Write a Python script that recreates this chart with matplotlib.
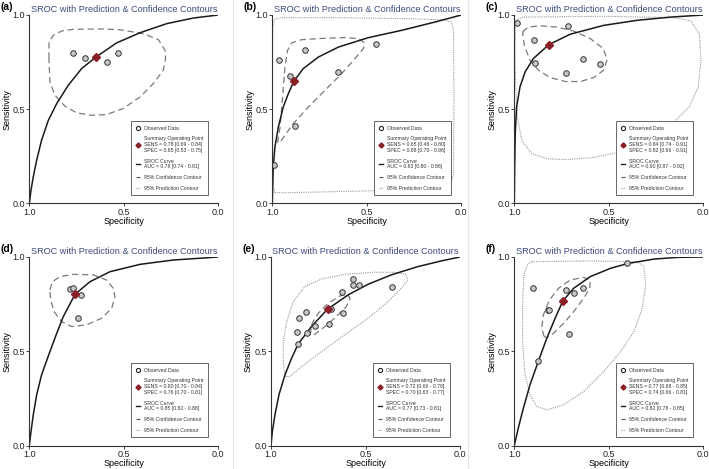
import matplotlib.pyplot as plt
from matplotlib.lines import Line2D

plt.rcParams['font.family'] = ['Liberation Sans', 'DejaVu Sans']

# ---- panel (a) ----
obs_a = [(0.767, 0.799), (0.707, 0.772), (0.591, 0.751), (0.531, 0.800)]
summ_a = (0.647, 0.777)
sroc_a = [(1.0, 0.0), (0.991, 0.071), (0.979, 0.141), (0.961, 0.230), (0.935, 0.336),
          (0.899, 0.442), (0.855, 0.530), (0.794, 0.627), (0.723, 0.716), (0.647, 0.777),
          (0.538, 0.852), (0.414, 0.906), (0.273, 0.954), (0.132, 0.984), (0.0, 1.0)]
conf_a = [(0.896, 0.769), (0.896, 0.857), (0.873, 0.892), (0.829, 0.915), (0.767, 0.924),
          (0.626, 0.926), (0.520, 0.922), (0.397, 0.901), (0.317, 0.869), (0.282, 0.813),
          (0.279, 0.769), (0.291, 0.707), (0.344, 0.636), (0.414, 0.565), (0.503, 0.504),
          (0.591, 0.472), (0.670, 0.468), (0.750, 0.481), (0.811, 0.516), (0.864, 0.574),
          (0.891, 0.645)]
pred_a = []
stats_a = ['0.78 [0.69 - 0.84]', '0.65 [0.53 - 0.75]', '0.78 [0.74 - 0.81]']

# ---- panel (b) ----
obs_b = [(0.965, 0.760), (0.905, 0.675), (0.827, 0.813), (0.654, 0.700),
         (0.452, 0.848), (0.880, 0.412), (0.993, 0.205)]
summ_b = (0.885, 0.650)
sroc_b = [(1.0, 0.0), (0.998, 0.088), (0.995, 0.194), (0.986, 0.300), (0.968, 0.406),
          (0.942, 0.512), (0.915, 0.583), (0.885, 0.650), (0.836, 0.716), (0.756, 0.777),
          (0.650, 0.830), (0.491, 0.880), (0.314, 0.919), (0.138, 0.963), (0.0, 1.0)]
conf_b = [(0.972, 0.322), (0.959, 0.406), (0.947, 0.548), (0.933, 0.724), (0.919, 0.813),
          (0.898, 0.852), (0.845, 0.869), (0.739, 0.876), (0.615, 0.880), (0.544, 0.875),
          (0.512, 0.852), (0.518, 0.822), (0.562, 0.769), (0.633, 0.689), (0.721, 0.601),
          (0.809, 0.512), (0.889, 0.424), (0.951, 0.336)]
pred_b = [(0.998, 0.936), (0.989, 0.977), (0.951, 0.986), (0.668, 0.986), (0.314, 0.981),
          (0.102, 0.975), (0.053, 0.963), (0.041, 0.919), (0.039, 0.548), (0.041, 0.159),
          (0.058, 0.097), (0.138, 0.078), (0.491, 0.067), (0.933, 0.057), (0.986, 0.058),
          (0.996, 0.088), (1.0, 0.548)]
stats_b = ['0.65 [0.46 - 0.80]', '0.88 [0.70 - 0.96]', '0.83 [0.80 - 0.86]']

# ---- panel (c) ----
obs_c = [(0.986, 0.959), (0.716, 0.942), (0.894, 0.866), (0.890, 0.747),
         (0.729, 0.693), (0.637, 0.769), (0.544, 0.740)]
summ_c = (0.817, 0.843)
sroc_c = [(1.0, 0.0), (0.998, 0.194), (0.995, 0.371), (0.988, 0.512), (0.970, 0.618),
          (0.943, 0.698), (0.899, 0.769), (0.817, 0.843), (0.704, 0.898), (0.527, 0.945),
          (0.349, 0.972), (0.172, 0.989), (0.0, 1.0)]
conf_c = [(0.956, 0.910), (0.926, 0.936), (0.863, 0.943), (0.775, 0.936), (0.686, 0.915),
          (0.598, 0.875), (0.530, 0.822), (0.509, 0.763), (0.527, 0.707), (0.580, 0.668),
          (0.651, 0.647), (0.730, 0.647), (0.810, 0.668), (0.872, 0.707), (0.917, 0.760),
          (0.947, 0.839)]
pred_c = [(0.993, 0.972), (0.952, 0.989), (0.527, 0.993), (0.154, 0.986), (0.066, 0.968),
          (0.021, 0.901), (0.012, 0.760), (0.027, 0.618), (0.074, 0.512), (0.172, 0.415),
          (0.296, 0.336), (0.438, 0.274), (0.580, 0.244), (0.722, 0.233), (0.828, 0.237),
          (0.908, 0.265), (0.961, 0.336), (0.984, 0.459), (0.993, 0.636), (0.996, 0.813)]
stats_c = ['0.84 [0.74 - 0.91]', '0.82 [0.66 - 0.91]', '0.90 [0.87 - 0.92]']

# ---- panel (d) ----
obs_d = [(0.785, 0.830), (0.767, 0.837), (0.727, 0.799), (0.744, 0.678)]
summ_d = (0.758, 0.802)
sroc_d = [(1.0, 0.0), (0.991, 0.074), (0.979, 0.163), (0.961, 0.269), (0.935, 0.375),
          (0.891, 0.498), (0.855, 0.595), (0.820, 0.684), (0.758, 0.802), (0.679, 0.869),
          (0.573, 0.922), (0.414, 0.961), (0.238, 0.984), (0.0, 1.0)]
conf_d = [(0.891, 0.825), (0.877, 0.869), (0.838, 0.896), (0.767, 0.908), (0.661, 0.905),
          (0.591, 0.878), (0.556, 0.834), (0.547, 0.790), (0.564, 0.728), (0.617, 0.675),
          (0.697, 0.640), (0.776, 0.631), (0.829, 0.657), (0.869, 0.710), (0.887, 0.772)]
pred_d = []
stats_d = ['0.80 [0.70 - 0.84]', '0.76 [0.70 - 0.81]', '0.85 [0.82 - 0.88]']

# ---- panel (e) ----
obs_e = [(0.564, 0.885), (0.564, 0.852), (0.536, 0.852), (0.362, 0.843), (0.622, 0.813),
         (0.815, 0.710), (0.854, 0.678), (0.680, 0.724), (0.617, 0.703), (0.692, 0.647),
         (0.766, 0.636), (0.810, 0.595), (0.865, 0.601), (0.856, 0.539)]
summ_e = (0.701, 0.723)
sroc_e = [(1.0, 0.0), (0.993, 0.074), (0.979, 0.163), (0.958, 0.269), (0.926, 0.375),
          (0.891, 0.463), (0.856, 0.539), (0.786, 0.631), (0.701, 0.723), (0.592, 0.799),
          (0.487, 0.855), (0.364, 0.905), (0.223, 0.949), (0.100, 0.979), (0.0, 1.0)]
conf_e = [(0.793, 0.587), (0.782, 0.648), (0.750, 0.701), (0.698, 0.754), (0.636, 0.793),
          (0.596, 0.804), (0.582, 0.781), (0.601, 0.737), (0.654, 0.684), (0.715, 0.631),
          (0.768, 0.590)]
pred_e = [(0.926, 0.366), (0.935, 0.445), (0.935, 0.551), (0.917, 0.657), (0.882, 0.763),
          (0.821, 0.843), (0.733, 0.883), (0.610, 0.908), (0.452, 0.919), (0.346, 0.919),
          (0.285, 0.908), (0.276, 0.878), (0.311, 0.834), (0.381, 0.763), (0.487, 0.675),
          (0.610, 0.587), (0.733, 0.498), (0.838, 0.419), (0.900, 0.366)]
stats_e = ['0.72 [0.66 - 0.78]', '0.70 [0.63 - 0.77]', '0.77 [0.73 - 0.81]']

# ---- panel (f) ----
obs_f = [(0.402, 0.968), (0.902, 0.836), (0.727, 0.825), (0.686, 0.811), (0.637, 0.837),
         (0.824, 0.719), (0.814, 0.717), (0.713, 0.592), (0.872, 0.449)]
summ_f = (0.743, 0.767)
sroc_f = [(1.0, 0.0), (0.979, 0.092), (0.952, 0.198), (0.917, 0.322), (0.872, 0.449),
          (0.828, 0.569), (0.784, 0.675), (0.743, 0.767), (0.686, 0.834), (0.598, 0.896),
          (0.491, 0.940), (0.402, 0.965), (0.261, 0.989), (0.137, 0.998), (0.0, 1.0)]
conf_f = [(0.842, 0.578), (0.855, 0.622), (0.846, 0.693), (0.814, 0.772), (0.766, 0.834),
          (0.704, 0.878), (0.633, 0.892), (0.598, 0.878), (0.601, 0.834), (0.633, 0.781),
          (0.686, 0.710), (0.739, 0.648), (0.793, 0.595), (0.828, 0.572)]
pred_f = [(0.908, 0.975), (0.615, 0.979), (0.349, 0.975), (0.314, 0.949), (0.305, 0.852),
          (0.323, 0.728), (0.367, 0.604), (0.438, 0.498), (0.527, 0.392), (0.633, 0.286),
          (0.739, 0.216), (0.828, 0.189), (0.881, 0.207), (0.917, 0.269), (0.943, 0.375),
          (0.956, 0.551), (0.956, 0.763), (0.949, 0.905), (0.931, 0.958)]
stats_f = ['0.77 [0.68 - 0.85]', '0.74 [0.66 - 0.81]', '0.82 [0.78 - 0.85]']

panels = [
    ('(a)', obs_a, summ_a, sroc_a, conf_a, pred_a, stats_a),
    ('(b)', obs_b, summ_b, sroc_b, conf_b, pred_b, stats_b),
    ('(c)', obs_c, summ_c, sroc_c, conf_c, pred_c, stats_c),
    ('(d)', obs_d, summ_d, sroc_d, conf_d, pred_d, stats_d),
    ('(e)', obs_e, summ_e, sroc_e, conf_e, pred_e, stats_e),
    ('(f)', obs_f, summ_f, sroc_f, conf_f, pred_f, stats_f),
]

# axes placement (figure pixels: left edge, top edge)
W, H = 709, 469
lefts = [29.3, 272.3, 514.3, 29.3, 271, 514.3]
tops = [15, 15, 15, 257, 257, 257]
aw, ah = 189, 188.5

title_col = '#3d4a7c'
red = '#8b1f28'

fig = plt.figure(figsize=(7.09, 4.69), dpi=100)

# faint separators between the original panel images
for xs in [233, 468]:
    fig.add_artist(Line2D([xs / W, xs / W], [0.0, 1.0], color='#e4e4e4', lw=0.8))

def closed(pts):
    xs = [p[0] for p in pts] + [pts[0][0]]
    ys = [p[1] for p in pts] + [pts[0][1]]
    return xs, ys

for i, (tag, obs, summ, sroc, conf, pred, stats) in enumerate(panels):
    ax = fig.add_axes([lefts[i] / W, 1 - (tops[i] + ah) / H, aw / W, ah / H])
    ax.set_xlim(1.0, 0.0)
    ax.set_ylim(0.0, 1.0)

    if pred:
        xs, ys = closed(pred)
        ax.plot(xs, ys, color='#9a9a9a', lw=0.8, ls=(0, (1, 1)))
    xs, ys = closed(conf)
    ax.plot(xs, ys, color='#7a7a7a', lw=0.9, ls=(0, (5, 3)))
    ax.plot([p[0] for p in sroc], [p[1] for p in sroc], color='#1a1a1a', lw=1.1)
    ax.plot([p[0] for p in obs], [p[1] for p in obs], 'o', ms=4, mfc='#c8c8c8',
            mec='#333333', mew=0.7, ls='none')
    ax.plot(summ[0], summ[1], 'D', ms=3.6, color=red)

    for s in ['top', 'right']:
        ax.spines[s].set_visible(False)
    for s in ['left', 'bottom']:
        ax.spines[s].set_color('#333333')
        ax.spines[s].set_linewidth(0.8)
    ax.set_xticks([1.0, 0.5, 0.0])
    ax.set_yticks([0.0, 0.5, 1.0])
    ax.set_xticklabels(['1.0', '0.5', '0.0'])
    ax.set_yticklabels(['0.0', '0.5', '1.0'])
    ax.tick_params(labelsize=6.5, length=2, width=0.6, pad=1, colors='#222222')
    ax.set_xlabel('Specificity', fontsize=6.5, labelpad=0)
    ax.set_ylabel('Sensitivity', fontsize=6.5, labelpad=1)
    ax.set_title('SROC with Prediction & Confidence Contours', fontsize=6.6,
                 color=title_col, pad=2)
    fig.text((lefts[i] - 29) / W, 1 - (tops[i] - 8) / H, tag, fontsize=7.5,
             fontweight='bold', va='center', ha='left')

    handles = [
        Line2D([], [], marker='o', ls='none', ms=3, mfc='white', mec='#222222', mew=0.8),
        Line2D([], [], marker='D', ls='none', ms=2.6, color=red),
        Line2D([], [], color='#222222', lw=1),
        Line2D([], [], color='#555555', lw=0.8, ls=(0, (4, 2))),
        Line2D([], [], color='#999999', lw=0.8, ls=(0, (1, 1))),
    ]
    labels = [
        'Observed Data',
        'Summary Operating Point\nSENS = ' + stats[0] + '\nSPEC = ' + stats[1],
        'SROC Curve\nAUC = ' + stats[2],
        '95% Confidence Contour',
        '95% Prediction Contour',
    ]
    leg = ax.legend(handles, labels, loc='lower right', bbox_to_anchor=(0.96, 0.03),
                    fontsize=3.7, frameon=True, fancybox=False, handlelength=0.8,
                    handletextpad=0.8, labelspacing=1.1, borderpad=0.9,
                    edgecolor='#666666', framealpha=1)
    leg.get_frame().set_linewidth(0.7)
    for t in leg.get_texts():
        t.set_color('#333333')

fig.savefig('out.png', dpi=100)
